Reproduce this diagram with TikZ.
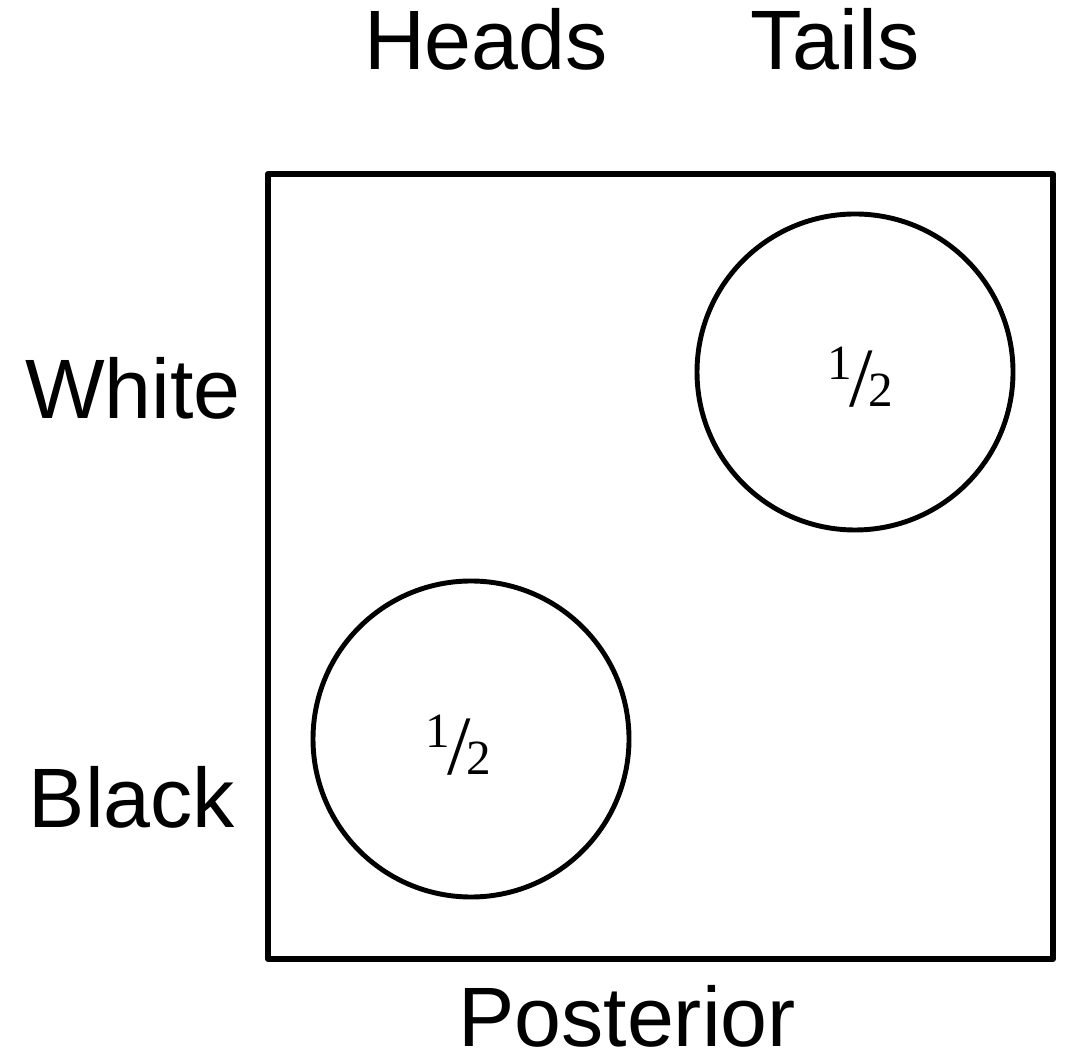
\documentclass[tikz,border=0pt]{standalone}
\usepackage{fontspec}
\setmainfont{Liberation Sans}
\newfontfamily\fracfont{Liberation Serif}
\usetikzlibrary{positioning}

% slanted one-half, built from a raised 1, a slash and a 2
\newcommand{\halfsym}{{\fracfont\raisebox{7.8pt}{\fontsize{14}{15}\selectfont 1}\kern-0.6pt{\fontsize{24}{25}\selectfont /}\kern-1.4pt{\fontsize{14}{15}\selectfont 2}}}

\begin{document}
\begin{tikzpicture}[x=1cm, y=1cm,
    lab/.style={font=\fontsize{24}{28}\selectfont, inner sep=0pt, anchor=base, text depth=0pt},
    outcome/.style={draw, circle, line width=1.4pt, minimum size=3.16cm, inner sep=0pt},
    prob/.style={inner sep=0pt}]

  \useasboundingbox (0,0) rectangle (10.69,10.54);

  % the whole space
  \draw[line width=1.7pt, line join=round] (2.68,0.95) rectangle (10.53,8.80);

  % column and row labels
  \foreach \x/\y/\txt/\name in {4.86/9.84/Heads/heads, 8.35/9.84/Tails/tails, 1.33/6.35/White/white, 1.32/2.27/Black/black} {
    \node[lab] (\name) at (\x,\y) {\txt};
  }
  \node[lab] (post) at (6.27,0.08) {Posterior};

  % the two remaining outcomes
  \node[outcome] (tw) at (8.55,6.82) {};
  \node[outcome] (hb) at (4.71,3.15) {};
  \node[prob] (ptw) at (8.60,6.77) {\halfsym};
  \node[prob] (phb) at (4.58,3.09) {\halfsym};

\end{tikzpicture}
\end{document}
